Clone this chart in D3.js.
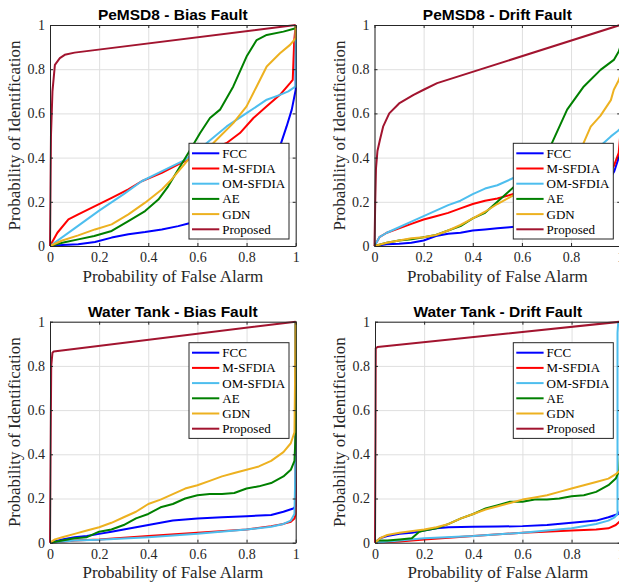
<!DOCTYPE html>
<html>
<head>
<meta charset="utf-8">
<script src="https://cdn.jsdelivr.net/npm/d3@7/dist/d3.min.js"></script>
<style>
  html, body { margin: 0; padding: 0; background: #fff; }
  svg { display: block; }
  .serif { font-family: "Liberation Serif", "Times New Roman", serif; }
  .tick text { font-family: "Liberation Serif", "Times New Roman", serif !important; font-size: 14px; fill: #262626; }
  .ptitle { font-family: "Liberation Sans", Arial, sans-serif; font-weight: bold; font-size: 15.5px; }
</style>
</head>
<body>
<svg id="chart" width="619" height="584"></svg>
<script>
// ---- data -------------------------------------------------------------
const methods = ["FCC", "M-SFDIA", "OM-SFDIA", "AE", "GDN", "Proposed"];
const methodColors = ["#0000ff", "#ff0000", "#4dbeee", "#008000", "#edb120", "#a2142f"];
const panelTitles = ["PeMSD8 - Bias Fault", "PeMSD8 - Drift Fault", "Water Tank - Bias Fault", "Water Tank - Drift Fault"];
const tickValues = [0, 0.2, 0.4, 0.6, 0.8, 1];
const tickLabels = ["0", "0.2", "0.4", "0.6", "0.8", "1"];
const xAxisTitle = "Probability of False Alarm";
const yAxisTitle = "Probability of Identification";

// ROC points: [probability of false alarm, probability of identification]
// PeMSD8 - bias fault
const pemsBiasFCC = [[0,0],[0.05,0.004],[0.115,0.008],[0.183,0.018],[0.251,0.038],[0.319,0.053],[0.387,0.063],[0.455,0.075],[0.522,0.09],[0.563,0.102],[0.65,0.12],[0.75,0.15],[0.85,0.22],[0.9,0.3],[0.936,0.451],[0.963,0.541],[0.984,0.617],[1,0.707],[1,1]];
const pemsBiasMSFDIA = [[0,0],[0.03,0.06],[0.075,0.12],[0.115,0.143],[0.183,0.18],[0.251,0.218],[0.319,0.256],[0.373,0.293],[0.455,0.331],[0.522,0.369],[0.563,0.391],[0.62,0.42],[0.719,0.466],[0.773,0.511],[0.828,0.579],[0.882,0.632],[0.936,0.684],[0.977,0.737],[0.988,0.752],[0.994,0.93],[1,1]];
const pemsBiasOMSFDIA = [[0,0],[0.1,0.08],[0.2,0.16],[0.3,0.235],[0.373,0.293],[0.45,0.335],[0.55,0.39],[0.638,0.466],[0.719,0.541],[0.8,0.601],[0.882,0.662],[0.936,0.684],[0.97,0.7],[1,0.722],[1,1]];
const pemsBiasAE = [[0,0],[0.05,0.015],[0.115,0.03],[0.18,0.045],[0.251,0.068],[0.319,0.113],[0.387,0.158],[0.441,0.21],[0.481,0.27],[0.522,0.346],[0.563,0.421],[0.611,0.511],[0.651,0.579],[0.692,0.617],[0.746,0.722],[0.8,0.857],[0.841,0.932],[0.882,0.955],[0.95,0.97],[1,0.985],[1,1]];
const pemsBiasGDN = [[0,0],[0.05,0.025],[0.115,0.048],[0.183,0.075],[0.251,0.098],[0.319,0.143],[0.387,0.196],[0.455,0.256],[0.495,0.301],[0.563,0.391],[0.62,0.44],[0.665,0.466],[0.746,0.556],[0.8,0.632],[0.841,0.722],[0.882,0.812],[0.936,0.872],[0.977,0.91],[1,0.94],[1,1]];
const pemsBiasProposed = [[0,0],[0.004,0.5],[0.01,0.7],[0.02,0.82],[0.04,0.85],[0.06,0.865],[0.1,0.875],[1,1]];

// PeMSD8 - drift fault
const pemsDriftFCC = [[0,0],[0.05,0.008],[0.1,0.01],[0.15,0.015],[0.2,0.025],[0.25,0.045],[0.3,0.055],[0.35,0.06],[0.4,0.07],[0.45,0.075],[0.5,0.08],[0.55,0.085],[0.6,0.09],[0.7,0.11],[0.8,0.15],[0.9,0.22],[0.95,0.29],[0.976,0.338],[0.994,0.4],[1,0.45],[1,1]];
const pemsDriftMSFDIA = [[0,0],[0.02,0.04],[0.05,0.06],[0.1,0.08],[0.15,0.1],[0.2,0.12],[0.25,0.135],[0.3,0.15],[0.35,0.17],[0.4,0.19],[0.45,0.205],[0.5,0.215],[0.58,0.24],[0.7,0.27],[0.8,0.29],[0.9,0.31],[0.95,0.33],[0.974,0.361],[0.994,0.421],[1,0.5],[1,1]];
const pemsDriftOMSFDIA = [[0,0],[0.02,0.04],[0.05,0.06],[0.1,0.085],[0.15,0.11],[0.2,0.135],[0.25,0.16],[0.3,0.185],[0.35,0.205],[0.4,0.235],[0.45,0.26],[0.5,0.275],[0.57,0.31],[0.7,0.37],[0.8,0.41],[0.88,0.44],[0.92,0.454],[0.962,0.496],[0.99,0.52],[1,0.53],[1,1]];
const pemsDriftAE = [[0,0],[0.05,0.015],[0.1,0.025],[0.15,0.03],[0.2,0.04],[0.25,0.05],[0.3,0.07],[0.35,0.09],[0.4,0.125],[0.45,0.15],[0.5,0.2],[0.55,0.25],[0.6,0.3],[0.65,0.36],[0.716,0.451],[0.784,0.617],[0.852,0.722],[0.92,0.797],[0.974,0.842],[0.994,0.88],[1,0.9],[1,1]];
const pemsDriftGDN = [[0,0],[0.05,0.015],[0.1,0.025],[0.15,0.035],[0.2,0.04],[0.25,0.05],[0.3,0.07],[0.35,0.095],[0.4,0.125],[0.45,0.155],[0.5,0.19],[0.55,0.22],[0.6,0.25],[0.7,0.32],[0.8,0.4],[0.845,0.451],[0.88,0.54],[0.92,0.59],[0.962,0.66],[0.974,0.707],[0.994,0.75],[1,0.77],[1,1]];
const pemsDriftProposed = [[0,0],[0.003,0.2],[0.006,0.35],[0.012,0.43],[0.022,0.48],[0.035,0.54],[0.06,0.6],[0.1,0.645],[0.159,0.684],[0.2,0.707],[0.255,0.737],[1,1]];

// Water Tank - bias fault
const tankBiasFCC = [[0,0],[0.05,0.015],[0.1,0.025],[0.15,0.03],[0.2,0.04],[0.25,0.05],[0.3,0.06],[0.35,0.07],[0.4,0.08],[0.45,0.09],[0.5,0.1],[0.55,0.105],[0.6,0.11],[0.7,0.115],[0.8,0.12],[0.9,0.125],[0.95,0.14],[0.99,0.155],[1,0.165],[1,1]];
const tankBiasMSFDIA = [[0,0],[0.1,0.01],[0.2,0.015],[0.4,0.03],[0.6,0.045],[0.8,0.06],[0.9,0.075],[0.95,0.085],[0.98,0.095],[0.995,0.11],[1,0.13],[1,1]];
const tankBiasOMSFDIA = [[0,0],[0.1,0.01],[0.2,0.013],[0.4,0.025],[0.6,0.04],[0.8,0.06],[0.9,0.072],[0.95,0.085],[0.98,0.1],[0.995,0.13],[1,0.4],[1,1]];
const tankBiasAE = [[0,0],[0.05,0.01],[0.1,0.02],[0.15,0.025],[0.2,0.05],[0.25,0.06],[0.3,0.08],[0.35,0.11],[0.4,0.13],[0.45,0.16],[0.5,0.175],[0.55,0.2],[0.6,0.215],[0.65,0.22],[0.7,0.22],[0.75,0.225],[0.8,0.245],[0.85,0.255],[0.9,0.27],[0.95,0.3],[0.98,0.33],[0.995,0.37],[1,0.5],[1,1]];
const tankBiasGDN = [[0,0],[0.02,0.015],[0.05,0.025],[0.1,0.04],[0.15,0.055],[0.2,0.07],[0.25,0.09],[0.3,0.115],[0.35,0.14],[0.4,0.175],[0.45,0.195],[0.5,0.22],[0.55,0.245],[0.6,0.26],[0.65,0.28],[0.7,0.3],[0.75,0.315],[0.8,0.33],[0.85,0.345],[0.9,0.37],[0.95,0.41],[0.98,0.45],[0.995,0.5],[1,1]];
const tankBiasProposed = [[0,0],[0.003,0.5],[0.005,0.8],[0.01,0.86],[0.015,0.865],[1,1]];

// Water Tank - drift fault
const tankDriftFCC = [[0,0],[0.02,0.02],[0.05,0.03],[0.1,0.04],[0.15,0.045],[0.2,0.055],[0.25,0.065],[0.3,0.07],[0.4,0.072],[0.5,0.073],[0.6,0.075],[0.7,0.08],[0.8,0.09],[0.9,0.1],[0.95,0.115],[0.99,0.13],[1,0.15],[1,1]];
const tankDriftMSFDIA = [[0,0],[0.1,0.005],[0.2,0.015],[0.4,0.03],[0.6,0.045],[0.8,0.055],[0.9,0.06],[0.95,0.065],[0.98,0.08],[1,0.1],[1,1]];
const tankDriftOMSFDIA = [[0,0],[0.1,0.01],[0.2,0.02],[0.4,0.03],[0.6,0.045],[0.8,0.065],[0.9,0.085],[0.95,0.1],[0.975,0.115],[0.987,0.13],[0.987,0.95],[0.99,1]];
const tankDriftAE = [[0,0],[0.01,0.01],[0.05,0.01],[0.1,0.015],[0.15,0.02],[0.18,0.05],[0.2,0.055],[0.25,0.065],[0.3,0.085],[0.35,0.11],[0.4,0.13],[0.45,0.155],[0.5,0.17],[0.55,0.185],[0.6,0.185],[0.65,0.195],[0.7,0.195],[0.75,0.2],[0.8,0.21],[0.85,0.215],[0.9,0.23],[0.95,0.26],[0.98,0.29],[0.995,0.33],[0.997,0.4],[1,1]];
const tankDriftGDN = [[0,0],[0.02,0.02],[0.05,0.035],[0.1,0.045],[0.2,0.06],[0.25,0.07],[0.3,0.085],[0.35,0.11],[0.4,0.13],[0.45,0.15],[0.5,0.165],[0.55,0.18],[0.6,0.195],[0.65,0.205],[0.7,0.215],[0.75,0.23],[0.8,0.245],[0.85,0.26],[0.9,0.275],[0.95,0.29],[0.98,0.31],[1,0.33],[1,1]];
const tankDriftProposed = [[0,0],[0.002,0.5],[0.003,0.88],[0.01,0.885],[1,1]];

// ---- layout -----------------------------------------------------------
const panels = [
  { title: panelTitles[0], left: 50,    top: 25,    series: [pemsBiasFCC, pemsBiasMSFDIA, pemsBiasOMSFDIA, pemsBiasAE, pemsBiasGDN, pemsBiasProposed], legend: [189, 143.3] },
  { title: panelTitles[1], left: 374.5, top: 25,    series: [pemsDriftFCC, pemsDriftMSFDIA, pemsDriftOMSFDIA, pemsDriftAE, pemsDriftGDN, pemsDriftProposed], legend: [513.3, 143.3] },
  { title: panelTitles[2], left: 50,    top: 321.7, series: [tankBiasFCC, tankBiasMSFDIA, tankBiasOMSFDIA, tankBiasAE, tankBiasGDN, tankBiasProposed], legend: [189, 342.7] },
  { title: panelTitles[3], left: 375,   top: 321.7, series: [tankDriftFCC, tankDriftMSFDIA, tankDriftOMSFDIA, tankDriftAE, tankDriftGDN, tankDriftProposed], legend: [513.3, 342.7] }
];
const plotW = 245.7, plotH = 221;
const axisColor = "#262626", gridColor = "#dfdfdf";
const serifFont = "'Liberation Serif', 'Times New Roman', serif";

const svg = d3.select("#chart");

panels.forEach(p => {
  const x = d3.scaleLinear().domain([0, 1]).range([0, plotW]);
  const y = d3.scaleLinear().domain([0, 1]).range([plotH, 0]);
  const g = svg.append("g").attr("transform", `translate(${p.left},${p.top})`);

  // grid
  g.append("g").attr("transform", `translate(0,${plotH})`)
    .call(d3.axisBottom(x).tickValues(tickValues).tickSize(-plotH).tickFormat(""))
    .call(a => a.select(".domain").remove())
    .call(a => a.selectAll("line").attr("stroke", gridColor).attr("stroke-width", 1));
  g.append("g")
    .call(d3.axisLeft(y).tickValues(tickValues).tickSize(-plotW).tickFormat(""))
    .call(a => a.select(".domain").remove())
    .call(a => a.selectAll("line").attr("stroke", gridColor).attr("stroke-width", 1));

  // curves
  const line = d3.line().x(d => x(d[0])).y(d => y(d[1]));
  p.series.forEach((s, i) => {
    g.append("path").datum(s)
      .attr("d", line)
      .attr("fill", "none")
      .attr("stroke", methodColors[i])
      .attr("stroke-width", 2)
      .attr("stroke-linejoin", "round");
  });

  // box axes with inward ticks
  const styleAxis = a => {
    a.attr("font-family", null).attr("font-size", null);
    a.select(".domain").attr("stroke", axisColor).attr("stroke-width", 1);
    a.selectAll(".tick line").attr("stroke", axisColor).attr("stroke-width", 1);
    a.selectAll(".tick text").style("font-family", serifFont).style("font-size", "14px").attr("fill", axisColor);
  };
  g.append("g").attr("transform", `translate(0,${plotH})`)
    .call(d3.axisBottom(x).tickValues(tickValues).tickFormat((d, i) => tickLabels[i]).tickSizeInner(-3).tickSizeOuter(0).tickPadding(6))
    .call(styleAxis);
  g.append("g")
    .call(d3.axisLeft(y).tickValues(tickValues).tickFormat((d, i) => tickLabels[i]).tickSizeInner(-3).tickSizeOuter(0).tickPadding(5))
    .call(styleAxis);
  g.append("g")
    .call(d3.axisTop(x).tickValues(tickValues).tickFormat("").tickSizeInner(-3).tickSizeOuter(0))
    .call(styleAxis);
  g.append("g").attr("transform", `translate(${plotW},0)`)
    .call(d3.axisRight(y).tickValues(tickValues).tickFormat("").tickSizeInner(-3).tickSizeOuter(0))
    .call(styleAxis);

  // title and axis titles
  g.append("text")
    .attr("class", "ptitle")
    .attr("x", plotW / 2).attr("y", -5)
    .attr("text-anchor", "middle")
    .attr("fill", "#000")
    .text(p.title);
  g.append("text")
    .attr("x", plotW / 2).attr("y", plotH + 35.5)
    .attr("text-anchor", "middle")
    .style("font-family", serifFont).style("font-size", "17px")
    .attr("fill", axisColor)
    .text(xAxisTitle);
  g.append("text")
    .attr("transform", `translate(-30,${plotH / 2}) rotate(-90)`)
    .attr("text-anchor", "middle")
    .style("font-family", serifFont).style("font-size", "17px")
    .attr("fill", axisColor)
    .text(yAxisTitle);

  // legend
  const lg = svg.append("g").attr("transform", `translate(${p.legend[0]},${p.legend[1]})`);
  lg.append("rect")
    .attr("width", 100).attr("height", 95.7)
    .attr("fill", "#fff").attr("stroke", axisColor).attr("stroke-width", 1);
  methods.forEach((m, i) => {
    const cy = 10 + i * 15.2;
    lg.append("line")
      .attr("x1", 3).attr("x2", 30.3).attr("y1", cy).attr("y2", cy)
      .attr("stroke", methodColors[i]).attr("stroke-width", 2);
    lg.append("text")
      .attr("x", 33.3).attr("y", cy + 4.5)
      .style("font-family", serifFont).style("font-size", "13px")
      .attr("fill", "#000")
      .text(m);
  });
});
</script>
</body>
</html>
